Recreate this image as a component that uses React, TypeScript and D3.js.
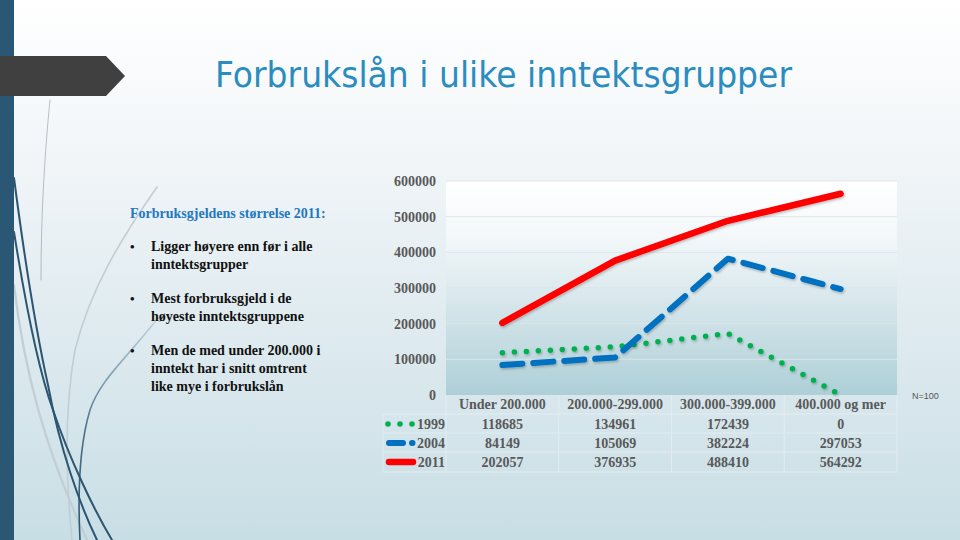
import React from "react";
import * as d3 from "d3";

const categories = ["Under 200.000", "200.000-299.000", "300.000-399.000", "400.000 og mer"];
const seriesNames = ["1999", "2004", "2011"];
const values1999 = [118685, 134961, 172439, 0];
const values2004 = [84149, 105069, 382224, 297053];
const values2011 = [202057, 376935, 488410, 564292];
const yTicks = [0, 100000, 200000, 300000, 400000, 500000, 600000];
const bullets = [
  ["Ligger høyere enn før i alle", "inntektsgrupper"],
  ["Mest forbruksgjeld i de", "høyeste inntektsgruppene"],
  ["Men de med under 200.000 i", "inntekt har i snitt omtrent", "like mye i forbrukslån"],
];

const W = 960, H = 540;
const plot = { left: 446, right: 897, top: 181, bottom: 395 };
const tableLeft = 383;
const rowY = [395, 414, 433, 452, 472];

const styles = [
  { color: "#00b050", dash: "0 12", width: 5.5 },
  { color: "#0070c0", dash: "20 11", width: 6 },
  { color: "#ff0000", dash: "", width: 6.5 },
];

export default function App() {
  const x = d3.scaleBand<string>().domain(categories).range([plot.left, plot.right]);
  const y = d3.scaleLinear().domain([0, 600000]).range([plot.bottom, plot.top]);
  const cx = (c: string) => (x(c) as number) + x.bandwidth() / 2;
  const line = d3.line<number>().x((_, i) => cx(categories[i])).y((v) => y(v));
  const data = [values1999, values2004, values2011];
  const serif = "'Liberation Serif', 'Times New Roman', serif";

  let by = 251;
  const bulletLines: { t: string; y: number; first: boolean }[] = [];
  bullets.forEach((g) => {
    g.forEach((t, i) => {
      bulletLines.push({ t, y: by, first: i === 0 });
      by += 18;
    });
    by += 16;
  });

  const legendKey = (si: number, ly: number) => {
    const s = styles[si];
    if (si === 0) {
      return [388, 400, 412].map((px) => <circle key={px} cx={px} cy={ly} r={2.8} fill={s.color} />);
    }
    if (si === 1) {
      return (
        <g>
          <line x1={389} x2={403} y1={ly} y2={ly} stroke={s.color} strokeWidth={s.width} strokeLinecap="round" />
          <line x1={412} x2={412.5} y1={ly} y2={ly} stroke={s.color} strokeWidth={s.width} strokeLinecap="round" />
        </g>
      );
    }
    return <line x1={389} x2={413} y1={ly} y2={ly} stroke={s.color} strokeWidth={s.width} strokeLinecap="round" />;
  };

  return (
    <svg width={W} height={H} style={{ position: "absolute", left: 0, top: 0 }} viewBox={`0 0 ${W} ${H}`}>
      <defs>
        <linearGradient id="bg" x1="0" y1="0" x2="0" y2="1">
          <stop offset="0" stopColor="#ffffff" />
          <stop offset="0.3" stopColor="#f1f5f8" />
          <stop offset="1" stopColor="#c8dee5" />
        </linearGradient>
        <linearGradient id="pg" x1="0" y1="0" x2="0" y2="1">
          <stop offset="0" stopColor="#ffffff" />
          <stop offset="0.25" stopColor="#f4f8fa" />
          <stop offset="1" stopColor="#aecfd7" />
        </linearGradient>
        <linearGradient id="fade" x1="0" y1="0" x2="0" y2="1">
          <stop offset="0" stopColor="#2b5570" stopOpacity="0.15" />
          <stop offset="0.5" stopColor="#2b5570" stopOpacity="0.8" />
          <stop offset="1" stopColor="#2b5570" stopOpacity="1" />
        </linearGradient>
        <filter id="sh" x="-10%" y="-10%" width="120%" height="130%">
          <feDropShadow dx="1" dy="1.5" stdDeviation="1" floodColor="#000" floodOpacity="0.25" />
        </filter>
      </defs>
      <rect x={0} y={0} width={W} height={H} fill="url(#bg)" />

      {/* decorative curves */}
      <g fill="none" strokeLinecap="round">
        <path d="M 50 100 C 44 160, 41 220, 41 280" stroke="#7f8f99" strokeWidth={0.9} opacity={0.6} />
        <path d="M 157 187 C 120 240, 90 290, 75 350 C 64 410, 66 480, 72 540" stroke="#c2ced4" strokeWidth={1.6} />
        <path d="M 14 285 C 24 370, 45 450, 87 540" stroke="#c2ced4" strokeWidth={2.2} />
        <path d="M 14 178 C 26 270, 38 340, 48 385 C 60 450, 80 505, 97 540" stroke="#2b5570" strokeWidth={2} />
        <path d="M 14 232 C 28 320, 42 380, 53 410 C 70 460, 94 510, 112 540" stroke="#2b5570" strokeWidth={2} />
        <path d="M 158 318 C 125 360, 100 380, 90 410 C 78 450, 78 500, 80 540" stroke="url(#fade)" strokeWidth={1.6} />
      </g>
      <rect x={0} y={0} width={14} height={H} fill="#2a5773" />
      <polygon points="0,56 106,56 125,76 106,96 0,96" fill="#404040" />

      {/* title */}
      <text x={215} y={87} fontFamily="'DejaVu Sans', 'Open Sans', sans-serif" fontWeight="normal" fontSize={35} fill="#2a8cbf" textLength={577} lengthAdjust="spacingAndGlyphs">
        Forbrukslån i ulike inntektsgrupper
      </text>

      {/* left text */}
      <text x={130} y={218} fontFamily={serif} fontWeight="bold" fontSize={14} fill="#1f78c1">
        Forbruksgjeldens størrelse 2011:
      </text>
      {bulletLines.map((b, i) => (
        <g key={i}>
          {b.first && (
            <text x={130} y={b.y} fontFamily={serif} fontWeight="bold" fontSize={13} fill="#111">•</text>
          )}
          <text x={151} y={b.y} fontFamily={serif} fontWeight="bold" fontSize={14} fill="#111">{b.t}</text>
        </g>
      ))}

      {/* plot area */}
      <rect x={plot.left} y={plot.top} width={plot.right - plot.left} height={plot.bottom - plot.top} fill="url(#pg)" />
      {yTicks.map((t) => (
        <g key={t}>
          <line x1={plot.left} x2={plot.right} y1={y(t)} y2={y(t)} stroke="#dce5ea" strokeWidth={1} opacity={t === 0 ? 0 : 0.9} />
          <text x={436} y={y(t) + 5} textAnchor="end" fontFamily={serif} fontWeight="bold" fontSize={14} fill="#595959">
            {t}
          </text>
        </g>
      ))}

      {/* table */}
      <g stroke="#e3edf0" strokeWidth={1} fill="none">
        {rowY.slice(1).map((ry, i) => (
          <line key={i} x1={tableLeft} x2={plot.right} y1={ry} y2={ry} />
        ))}
        <line x1={tableLeft} x2={tableLeft} y1={rowY[1]} y2={rowY[4]} />
        {categories.map((c) => (
          <line key={c} x1={x(c) as number} x2={x(c) as number} y1={rowY[0]} y2={rowY[4]} />
        ))}
        <line x1={plot.right} x2={plot.right} y1={rowY[0]} y2={rowY[4]} />
      </g>
      {categories.map((c) => (
        <text key={c} x={cx(c)} y={409} textAnchor="middle" fontFamily={serif} fontWeight="bold" fontSize={14} fill="#595959">
          {c}
        </text>
      ))}
      {data.map((vals, si) => (
        <g key={si}>
          {vals.map((v, i) => (
            <text key={i} x={cx(categories[i])} y={rowY[si + 1] + 15} textAnchor="middle" fontFamily={serif} fontWeight="bold" fontSize={14} fill="#595959">
              {v}
            </text>
          ))}
          {legendKey(si, rowY[si + 1] + 10)}
          <text x={445} y={rowY[si + 1] + 15} textAnchor="end" fontFamily={serif} fontWeight="bold" fontSize={14} fill="#595959">
            {seriesNames[si]}
          </text>
        </g>
      ))}
      <text x={912} y={399} fontFamily="'Liberation Sans', Arial, sans-serif" fontSize={9} fill="#555">N=100</text>

      {/* lines */}
      {data.map((vals, si) => (
        <path key={si} d={line(vals) as string} fill="none" stroke={styles[si].color} strokeWidth={styles[si].width} strokeDasharray={styles[si].dash} strokeLinecap="round" strokeLinejoin="round" filter="url(#sh)" />
      ))}
    </svg>
  );
}
